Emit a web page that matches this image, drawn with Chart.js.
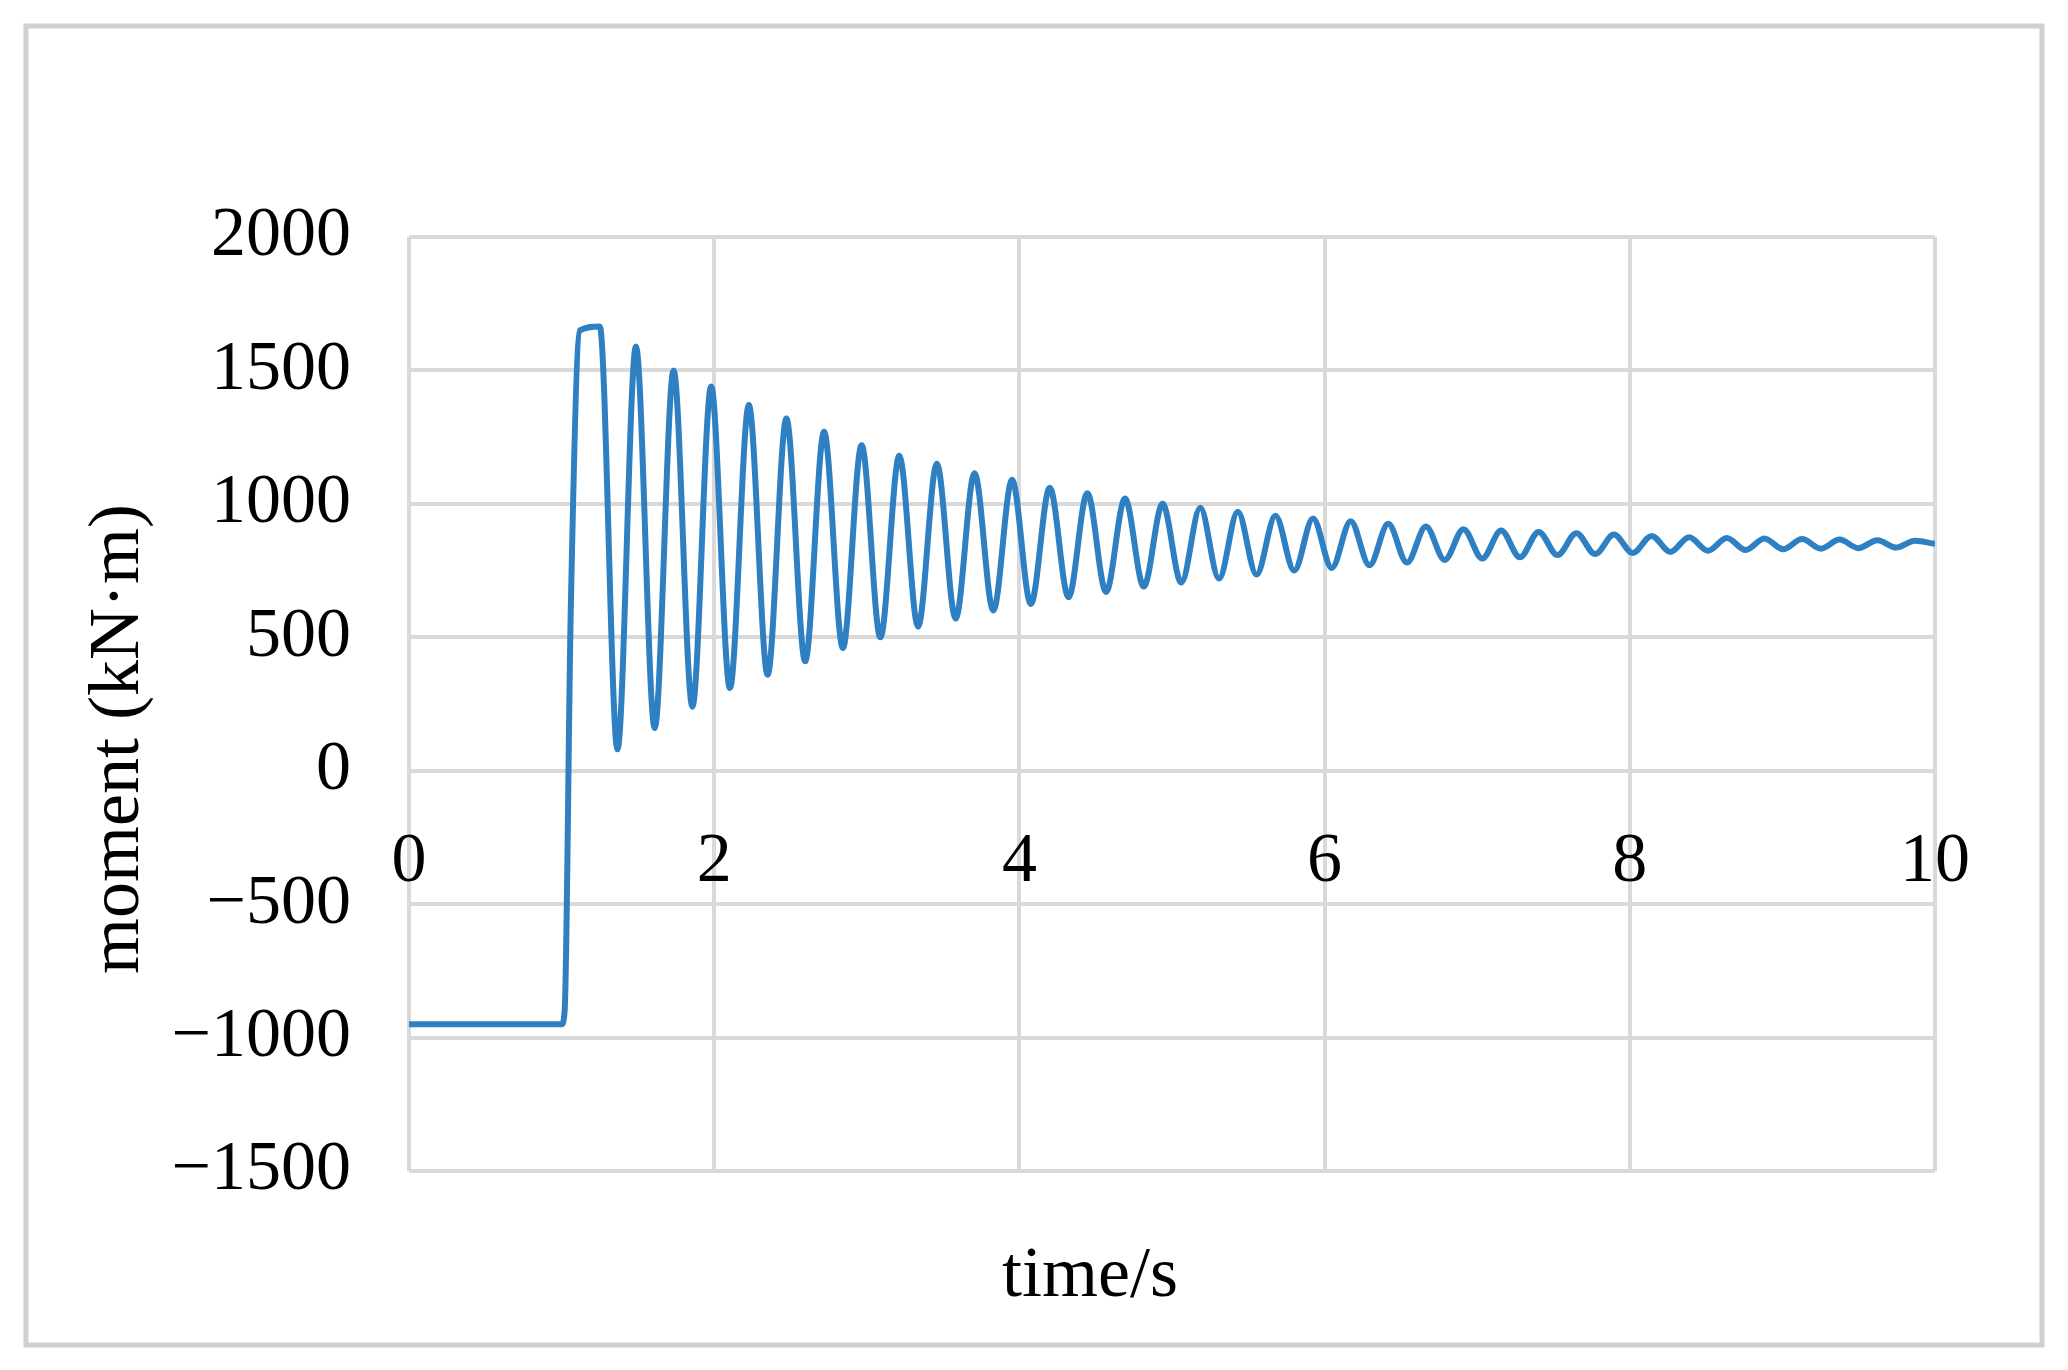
<!DOCTYPE html>
<html><head><meta charset="utf-8">
<script src="https://cdn.jsdelivr.net/npm/chart.js@4"></script>
<style>html,body{margin:0;padding:0;background:#fff}#w{width:2068px;height:1370px}</style>
</head><body><div id="w"><canvas id="c"></canvas></div>
<script>
const startTimes=[0,1.0,1.02,1.06,1.12,1.25];
const startValues=[-950,-950,-900,600,1650,1665];
const peakTimes=[1.487,1.734,1.980,2.227,2.473,2.720,2.966,3.213,3.459,3.706,3.952,4.199,4.445,4.692,4.938,5.185,5.431,5.678,5.924,6.171,6.417,6.664,6.910,7.157,7.403,7.650,7.896,8.143,8.389,8.636,8.882,9.129,9.375,9.622,9.868];
const peakValues=[1590,1500,1440,1370,1320,1270,1220,1180,1150,1115,1090,1060,1040,1020,1000,985,970,955,945,935,925,915,905,900,895,890,885,880,875,872,870,868,866,864,862];
const troughTimes=[1.366,1.610,1.857,2.103,2.350,2.596,2.843,3.089,3.336,3.582,3.829,4.075,4.322,4.568,4.815,5.061,5.308,5.554,5.801,6.047,6.294,6.540,6.787,7.033,7.280,7.526,7.773,8.019,8.266,8.512,8.759,9.005,9.252,9.498,9.745];
const troughValues=[80,160,240,310,360,410,460,500,540,570,600,625,650,670,690,705,720,735,750,760,770,780,790,795,800,808,812,816,820,824,827,830,832,834,836];
const endTimes=[10];
const endValues=[850];
const yTicks=[2000,1500,1000,500,0,-500,-1000,-1500];
const xTicks=[0,2,4,6,8,10];

const pts=[];
startTimes.forEach((t,i)=>pts.push({x:t,y:startValues[i]}));
for(let i=0;i<troughTimes.length;i++){pts.push({x:troughTimes[i],y:troughValues[i]});pts.push({x:peakTimes[i],y:peakValues[i]});}
endTimes.forEach((t,i)=>pts.push({x:t,y:endValues[i]}));

const FONT="'Liberation Serif','DejaVu Serif',serif";
const deco={id:'deco',beforeDraw(c){const g=c.ctx;g.save();g.fillStyle='#fff';g.fillRect(0,0,c.width,c.height);
g.strokeStyle='#d0d0d0';g.lineWidth=5;g.strokeRect(26,26,2016,1319);g.restore();},
afterDraw(c){const g=c.ctx;g.save();g.fillStyle='#000';g.font='72px '+FONT;g.textAlign='center';g.textBaseline='middle';
g.fillText('time/s',1090,1277);g.translate(119,739);g.rotate(-Math.PI/2);g.fillText('moment (kN·m)',0,0);g.restore();}};

new Chart(document.getElementById('c'),{type:'line',
data:{datasets:[{data:pts,borderColor:'#2e80c2',borderWidth:6,pointRadius:0,cubicInterpolationMode:'monotone',fill:false}]},
options:{responsive:true,maintainAspectRatio:false,animation:false,
plugins:{legend:{display:false},tooltip:{enabled:false}},
layout:{padding:{left:0,top:237,right:133,bottom:199}},
scales:{
x:{type:'linear',min:0,max:10,position:{y:0},
 afterBuildTicks(s){s.ticks=xTicks.map(v=>({value:v}));},
 grid:{color:'#d9d9d9',lineWidth:4,drawTicks:false},border:{display:false},
 ticks:{color:'#000',font:{family:FONT,size:70},padding:50}},
y:{min:-1500,max:2000,
 afterBuildTicks(s){s.ticks=yTicks.map(v=>({value:v}));},
 afterFit(s){s.width=409;},
 grid:{color:'#d9d9d9',lineWidth:4,drawTicks:false},border:{display:false},
 ticks:{color:'#000',font:{family:FONT,size:70},padding:58,callback:v=>v<0?'\u2212'+Math.abs(v):String(v)}}}},
plugins:[deco]});
</script></body></html>
